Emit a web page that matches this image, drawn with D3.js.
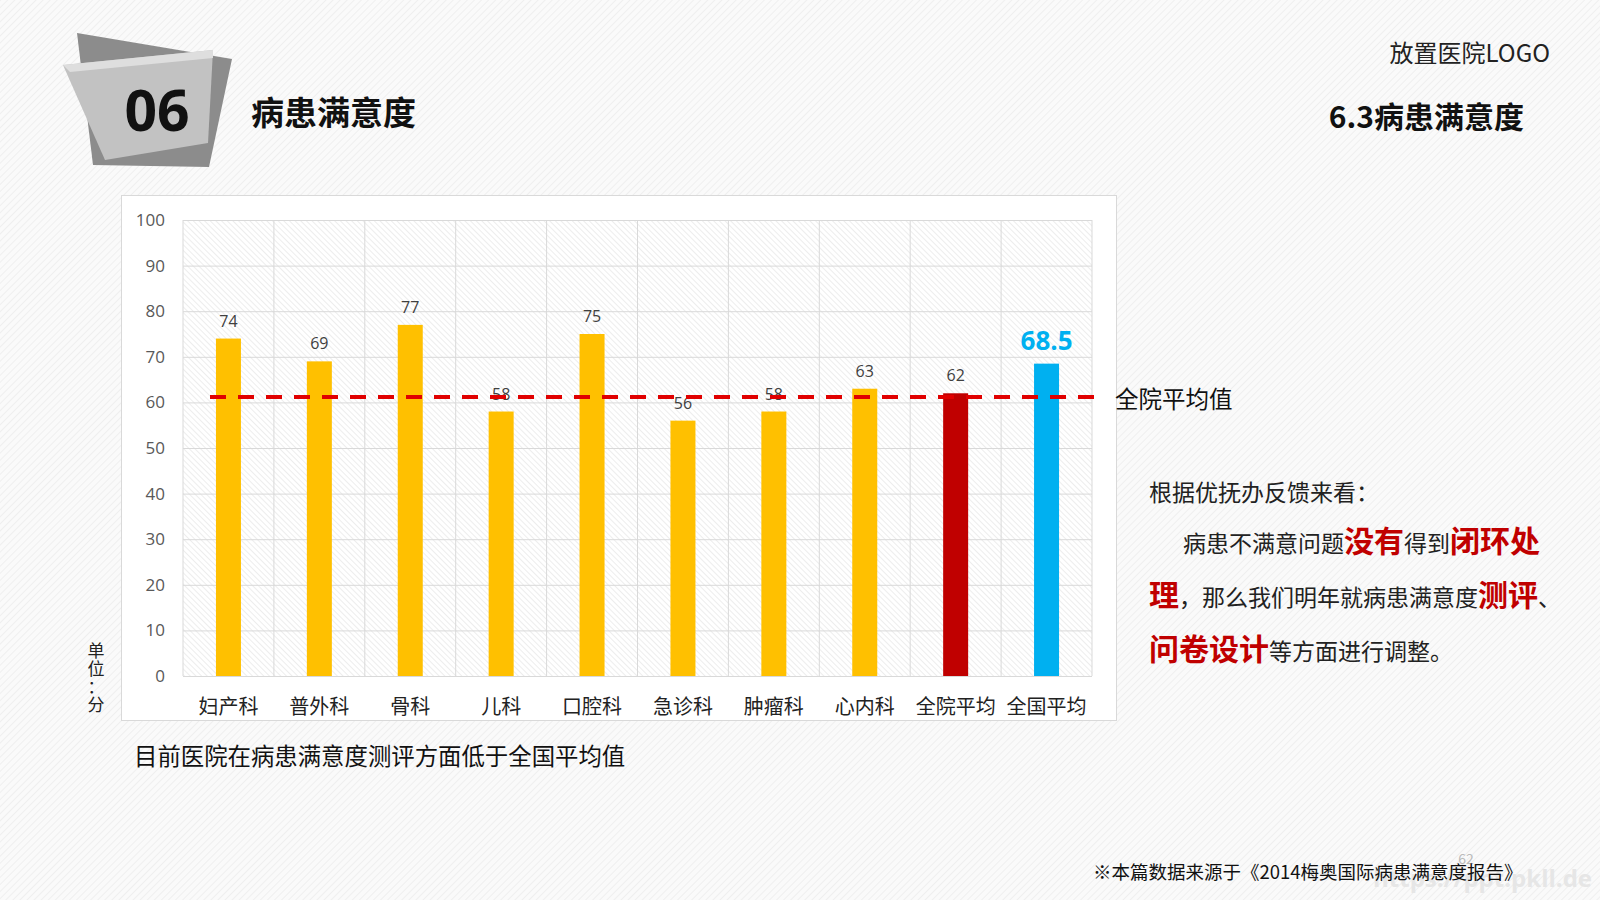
<!DOCTYPE html>
<html>
<head>
<meta charset="utf-8">
<script src="https://cdn.jsdelivr.net/npm/d3@7"></script>
<style>
  body { margin: 0; background: #fff; }
  svg { display: block; }
  text { font-family: "Noto Sans CJK SC", "Open Sans", sans-serif; }
</style>
</head>
<body>
<script>
// chart data
var categories = ["妇产科", "普外科", "骨科", "儿科", "口腔科", "急诊科", "肿瘤科", "心内科", "全院平均", "全国平均"];
var scores = [74, 69, 77, 58, 75, 56, 58, 63, 62, 68.5];
var barColors = ["#FFC000", "#FFC000", "#FFC000", "#FFC000", "#FFC000", "#FFC000", "#FFC000", "#FFC000", "#C00000", "#00B0F0"];
var yTicks = [0, 10, 20, 30, 40, 50, 60, 70, 80, 90, 100];
var hospitalAvg = 61.2;

var W = 1600, H = 900;
var plot = {left: 183, right: 1092, top: 220, bottom: 676};

var svg = d3.select("body").append("svg")
  .attr("width", W)
  .attr("height", H);

var defs = svg.append("defs");

// page background stripes
var bgPat = defs.append("pattern")
  .attr("id", "bgStripe")
  .attr("width", 5).attr("height", 5)
  .attr("patternUnits", "userSpaceOnUse")
  .attr("patternTransform", "rotate(45)");
bgPat.append("rect").attr("width", 5).attr("height", 5).attr("fill", "#fafafa");
bgPat.append("line").attr("x1", 0).attr("y1", 0).attr("x2", 0).attr("y2", 5)
  .attr("stroke", "#ececec").attr("stroke-width", 1.5);

// plot area hatching
var plotPat = defs.append("pattern")
  .attr("id", "plotHatch")
  .attr("width", 4).attr("height", 4)
  .attr("patternUnits", "userSpaceOnUse")
  .attr("patternTransform", "rotate(-45)");
plotPat.append("rect").attr("width", 4).attr("height", 4).attr("fill", "#ffffff");
plotPat.append("line").attr("x1", 0).attr("y1", 0).attr("x2", 0).attr("y2", 4)
  .attr("stroke", "#dcdcdc").attr("stroke-width", 1);

svg.append("rect").attr("width", W).attr("height", H).attr("fill", "url(#bgStripe)");

// header badge
var badge = svg.append("g");
badge.append("polygon")
  .attr("points", "77,33 232,59 209,167 93,165")
  .attr("fill", "#8c8c8c");
badge.append("polygon")
  .attr("points", "63,65 213,50 208,143 105,160")
  .attr("fill", "#c2c2c2");
badge.append("polygon")
  .attr("points", "63,65 213,50 213,58 70,72")
  .attr("fill", "#dedede");
badge.append("text")
  .attr("x", 157).attr("y", 131)
  .attr("text-anchor", "middle")
  .style("font-family", "'Open Sans', sans-serif")
  .style("font-weight", "bold")
  .style("font-size", "57px")
  .attr("fill", "#111")
  .text("06");

svg.append("text")
  .attr("x", 251).attr("y", 125)
  .style("font-weight", "bold")
  .style("font-size", "33px")
  .attr("fill", "#111")
  .text("病患满意度");

svg.append("text")
  .attr("x", 1550).attr("y", 62)
  .attr("text-anchor", "end")
  .style("font-size", "24px")
  .attr("fill", "#222")
  .text("放置医院LOGO");

svg.append("text")
  .attr("x", 1524).attr("y", 128)
  .attr("text-anchor", "end")
  .style("font-weight", "bold")
  .style("font-size", "30px")
  .attr("fill", "#111")
  .text("6.3病患满意度");

// chart frame
svg.append("rect")
  .attr("x", 121.5).attr("y", 195.5)
  .attr("width", 995).attr("height", 525)
  .attr("fill", "#fff")
  .attr("stroke", "#d9d9d9");

var x = d3.scaleBand()
  .domain(categories)
  .range([plot.left, plot.right])
  .padding(0);

var y = d3.scaleLinear()
  .domain([0, 100])
  .range([plot.bottom, plot.top]);

svg.append("rect")
  .attr("x", plot.left).attr("y", plot.top)
  .attr("width", plot.right - plot.left)
  .attr("height", plot.bottom - plot.top)
  .attr("fill", "url(#plotHatch)");

// horizontal gridlines
var yGrid = svg.append("g")
  .attr("transform", "translate(" + plot.left + ",0)")
  .call(d3.axisLeft(y).tickValues(yTicks).tickSize(-(plot.right - plot.left)).tickFormat(""));
yGrid.select(".domain").remove();
yGrid.selectAll("line").attr("stroke", "#d9d9d9");

// vertical gridlines at category boundaries
var bounds = categories.map(function(d) { return x(d); }).concat([plot.right]);
svg.append("g").selectAll("line")
  .data(bounds)
  .enter().append("line")
  .attr("x1", function(d) { return d; })
  .attr("x2", function(d) { return d; })
  .attr("y1", plot.top)
  .attr("y2", plot.bottom)
  .attr("stroke", "#d9d9d9");

// y labels
var yAxis = svg.append("g")
  .attr("transform", "translate(" + (plot.left - 18) + ",0)")
  .call(d3.axisLeft(y).tickValues(yTicks).tickSize(0).tickPadding(0));
yAxis.select(".domain").remove();
yAxis.selectAll("text")
  .style("font-family", "'Open Sans', 'Noto Sans CJK SC', sans-serif")
  .style("font-size", "17px")
  .attr("fill", "#595959");

// x labels
var xAxis = svg.append("g")
  .attr("transform", "translate(0," + plot.bottom + ")")
  .call(d3.axisBottom(x).tickSize(0).tickPadding(24));
xAxis.select(".domain").remove();
xAxis.selectAll("text")
  .style("font-size", "20px")
  .attr("fill", "#222");

// bars
var barW = x.bandwidth() * 0.275;
svg.append("g").selectAll("rect")
  .data(scores)
  .enter().append("rect")
  .attr("x", function(d, i) { return x(categories[i]) + (x.bandwidth() - barW) / 2; })
  .attr("y", function(d) { return y(d); })
  .attr("width", barW)
  .attr("height", function(d) { return y(0) - y(d); })
  .attr("fill", function(d, i) { return barColors[i]; });

// data labels, the national average is highlighted
var last = scores.length - 1;
svg.append("g").selectAll("text")
  .data(scores)
  .enter().append("text")
  .attr("x", function(d, i) { return x(categories[i]) + x.bandwidth() / 2; })
  .attr("y", function(d, i) { return y(d) - (i === last ? 14 : 12); })
  .attr("text-anchor", "middle")
  .style("font-family", "'Open Sans', 'Noto Sans CJK SC', sans-serif")
  .style("font-size", function(d, i) { return i === last ? "26px" : "16px"; })
  .style("font-weight", function(d, i) { return i === last ? "bold" : "normal"; })
  .attr("fill", function(d, i) { return i === last ? "#00B0F0" : "#404040"; })
  .text(function(d) { return d; });

// hospital average dashed line
svg.append("line")
  .attr("x1", 210).attr("x2", plot.right + 2)
  .attr("y1", y(hospitalAvg)).attr("y2", y(hospitalAvg))
  .attr("stroke", "#E00000")
  .attr("stroke-width", 4)
  .attr("stroke-dasharray", "16,12");

svg.append("text")
  .attr("x", 1115).attr("y", 408)
  .style("font-size", "23.5px")
  .attr("fill", "#111")
  .text("全院平均值");

// unit label (vertical)
var unit = ["单", "位", "：", "分"];
svg.append("g").selectAll("text")
  .data(unit)
  .enter().append("text")
  .attr("x", 96)
  .attr("y", function(d, i) { return 657 + i * 18; })
  .attr("text-anchor", "middle")
  .style("font-size", "17px")
  .attr("fill", "#222")
  .text(function(d) { return d; });

svg.append("text")
  .attr("x", 134).attr("y", 765)
  .style("font-size", "23.4px")
  .attr("fill", "#111")
  .text("目前医院在病患满意度测评方面低于全国平均值");

// commentary on the right
var red = "#C00000";
var lines = [
  {y: 501, parts: [["根据优抚办反馈来看：", false]]},
  {y: 552, x: 1183, parts: [["病患不满意问题", false], ["没有", true], ["得到", false], ["闭环处", true]]},
  {y: 606, parts: [["理", true], ["，那么我们明年就病患满意度", false], ["测评", true], ["、", false]]},
  {y: 660, parts: [["问卷设计", true], ["等方面进行调整。", false]]}
];
lines.forEach(function(l) {
  var t = svg.append("text")
    .attr("x", l.x || 1149)
    .attr("y", l.y);
  l.parts.forEach(function(p) {
    t.append("tspan")
      .style("font-size", p[1] ? "30px" : "23px")
      .style("font-weight", p[1] ? "bold" : "normal")
      .attr("fill", p[1] ? red : "#222")
      .text(p[0]);
  });
});

// footer
svg.append("text")
  .attr("x", 1466).attr("y", 864)
  .attr("text-anchor", "middle")
  .style("font-size", "14px")
  .attr("fill", "#bbb")
  .text("62");

svg.append("text")
  .attr("x", 1592).attr("y", 887)
  .attr("text-anchor", "end")
  .style("font-family", "'Open Sans', sans-serif")
  .style("font-size", "24px")
  .style("font-weight", "bold")
  .attr("fill", "#e6e6e6")
  .text("https://ppt.pkll.de");

svg.append("text")
  .attr("x", 1093).attr("y", 879)
  .style("font-size", "18.5px")
  .attr("fill", "#111")
  .text("※本篇数据来源于《2014梅奥国际病患满意度报告》");
</script>
</body>
</html>
